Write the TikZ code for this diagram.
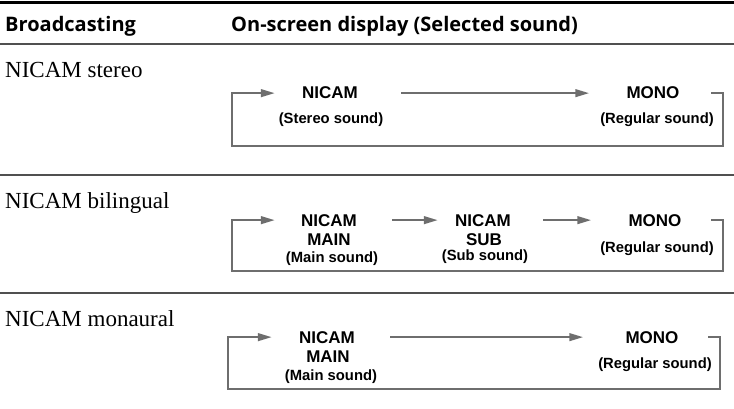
\documentclass[tikz,border=0pt]{standalone}
\usepackage{fontspec}
\setmainfont{Liberation Serif}
\setsansfont{Liberation Sans}
\newfontfamily\headfont{Open Sans}
\usetikzlibrary{arrows.meta}
\definecolor{flowgray}{RGB}{110,110,110}
\definecolor{rulegray}{RGB}{80,80,80}

\begin{document}
\begin{tikzpicture}[x=1pt, y=-1pt, >={Triangle[length=14pt,width=7.5pt]},
  hdr/.style={anchor=base west, inner sep=0pt, font=\headfont\bfseries\fontsize{20}{22}\selectfont},
  src/.style={anchor=base west, inner sep=0pt, font=\rmfamily\fontsize{23}{25}\selectfont},
  lbl/.style={anchor=base, inner sep=0pt, font=\sffamily\bfseries\fontsize{17}{19}\selectfont},
  paren/.style={anchor=base, inner sep=0pt, font=\sffamily\bfseries\fontsize{14.8}{17}\selectfont},
  flow/.style={draw=flowgray, line width=2.4pt},
  sep/.style={draw=rulegray, line width=1.4pt}]
  \useasboundingbox (0,0) rectangle (734,409);

  % table rules
  \draw[line width=3pt] (0,3) -- (734,3);
  \draw[sep] (0,44) -- (734,44);
  \draw[sep] (0,175) -- (734,175);
  \draw[sep] (0,293) -- (734,293);
  \node[hdr] (hbc) at (5,32) {Broadcasting};
  \node[hdr] (hosd) at (231,32) {On-screen display (Selected sound)};

  % NICAM stereo
  \node[src] (src1) at (5,78) {NICAM stereo};
  \node[lbl] (n1) at (330,99) {NICAM};
  \node[paren] (n1p) at (331,124) {(Stereo sound)};
  \node[lbl] (m1) at (653,99) {MONO};
  \node[paren] (m1p) at (657,124) {(Regular sound)};
  \coordinate (ra1) at (711,93);
  \coordinate (rb1) at (723,146);
  \coordinate (lb1) at (232,146);
  \draw[flow, ->, shorten <=43pt, shorten >=37pt] (n1.east) -- (m1.west);
  \draw[flow, ->, shorten >=27pt] (ra1) -| (rb1) -- (lb1) |- (n1.west);

  % NICAM bilingual
  \node[src] (src2) at (5,208) {NICAM bilingual};
  \node[lbl] (n2) at (329,226) {NICAM};
  \node[lbl] (n2m) at (329,245) {MAIN};
  \node[paren] (n2p) at (332,262) {(Main sound)};
  \node[lbl] (b2) at (483,226) {NICAM};
  \node[lbl] (b2s) at (484,245) {SUB};
  \node[paren] (b2p) at (485,260) {(Sub sound)};
  \node[lbl] (m2) at (655,226) {MONO};
  \node[paren] (m2p) at (657,252) {(Regular sound)};
  \coordinate (ra2) at (711,220);
  \coordinate (rb2) at (723,271);
  \coordinate (lb2) at (232,271);
  \draw[flow, ->, shorten <=35pt, shorten >=17pt] (n2.east) -- (b2.west);
  \draw[flow, ->, shorten <=32pt, shorten >=37pt] (b2.east) -- (m2.west);
  \draw[flow, ->, shorten >=26pt] (ra2) -| (rb2) -- (lb2) |- (n2.west);

  % NICAM monaural
  \node[src] (src3) at (5,326) {NICAM monaural};
  \node[lbl] (n3) at (327,343) {NICAM};
  \node[lbl] (n3m) at (328,362) {MAIN};
  \node[paren] (n3p) at (331,380) {(Main sound)};
  \node[lbl] (m3) at (652,343) {MONO};
  \node[paren] (m3p) at (655,368) {(Regular sound)};
  \coordinate (ra3) at (708,337);
  \coordinate (rb3) at (720,389);
  \coordinate (lb3) at (228,389);
  \draw[flow, ->, shorten <=35pt, shorten >=42pt] (n3.east) -- (m3.west);
  \draw[flow, ->, shorten >=27pt] (ra3) -| (rb3) -- (lb3) |- (n3.west);
\end{tikzpicture}
\end{document}
